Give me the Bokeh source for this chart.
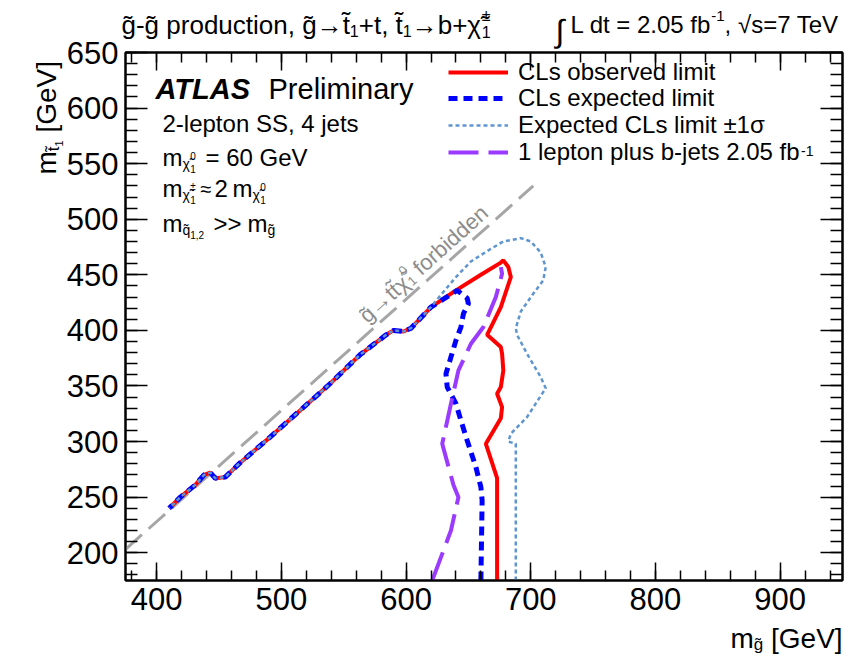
import math
import unicodedata
from bokeh.plotting import figure
from bokeh.layouts import column
from bokeh.models import Range1d, FixedTicker, LinearAxis, Label, Legend, LegendItem
from bokeh.embed import file_html
from bokeh.resources import INLINE

# ---------------- data (GeV) ----------------
obs_mgluino = [673, 673, 664, 676, 677, 673, 676, 678, 677, 676, 665, 676, 684, 682, 678,
               676, 660, 640, 620, 604, 598, 590, 584, 563, 539, 515, 491, 467, 455, 447,
               443, 438, 431, 419, 410]
obs_mstop = [175, 267, 298, 321, 331, 343, 349, 364, 379, 385, 396, 421, 448, 457, 463,
             461, 450, 436, 421, 402, 399, 400, 396, 378, 352, 328, 304, 281, 268, 267,
             272, 270, 261, 250, 240]

exp_mgluino = [660, 661, 660, 656, 649, 644, 640, 633, 632, 636, 640, 644, 646, 650, 649,
               641, 620, 604, 598, 590, 584, 563, 539, 515, 491, 467, 455, 447, 443, 438,
               431, 419, 410]
exp_mstop = [175, 247, 259, 277, 301, 319, 334, 349, 361, 376, 391, 403, 415, 424, 429,
             436, 421, 402, 399, 400, 396, 378, 352, 328, 304, 281, 268, 267, 272, 270,
             261, 250, 240]

exp1s_mgluino = [688, 688, 682, 684, 697, 712, 708, 697, 689, 688, 692, 702, 710, 712, 708,
                 700, 692, 678, 666, 652, 640, 628, 620, 604, 598, 590, 584, 563, 539, 515,
                 491, 467, 455, 447, 443, 438, 431, 419, 410]
exp1s_mstop = [175, 298, 300, 307, 322, 348, 358, 379, 396, 402, 417, 433, 445, 457, 470,
               480, 483, 480, 472, 462, 448, 432, 421, 402, 399, 400, 396, 378, 352, 328,
               304, 281, 268, 267, 272, 270, 261, 250, 240]

lep_mgluino = [621, 636, 642, 638, 629, 636, 642, 652, 662, 672, 677, 676]
lep_mstop = [175, 220, 250, 261, 298, 334, 364, 388, 403, 430, 451, 457]

kin_mgluino = [375, 702]
kin_mstop = [203, 530]

x_ticks = [400, 500, 600, 700, 800, 900]
y_ticks = [200, 250, 300, 350, 400, 450, 500, 550, 600, 650]
legend_labels = ["CLs observed limit", "CLs expected limit",
                 "Expected CLs limit \u00b11\u03c3", "1 lepton plus b-jets 2.05 fb"]

# ---------------- layout ----------------
X0, X1, Y0, Y1 = 375, 950, 175, 650
CW, CH = 846, 657
FR_L, FR_R, FR_T, FR_B = 125, 842, 52, 580
FONT = "Liberation Sans"

p = figure(width=CW, height=CH, x_range=Range1d(X0, X1), y_range=Range1d(Y0, Y1),
           output_backend="svg", toolbar_location=None,
           min_border_left=FR_L, min_border_right=CW - FR_R,
           min_border_top=FR_T, min_border_bottom=CH - FR_B,
           background_fill_color="white", border_fill_color="white")
p.grid.visible = False
p.outline_line_color = "black"
p.outline_line_width = 2


def X(px):
    return X0 + (px - FR_L) * (X1 - X0) / (FR_R - FR_L)


def Y(py):
    return Y1 - (py - FR_T) * (Y1 - Y0) / (FR_B - FR_T)


x_minor = list(range(380, 951, 20))
y_minor = list(range(180, 651, 10))


def style_axis(ax, ticks, minor, tin, tmin, labels=True):
    ax.ticker = FixedTicker(ticks=ticks, minor_ticks=minor)
    ax.major_tick_in = tin
    ax.major_tick_out = 0
    ax.minor_tick_in = tmin
    ax.minor_tick_out = 0
    ax.axis_line_width = 2
    ax.major_tick_line_width = 1.5
    ax.minor_tick_line_width = 1.5
    ax.axis_label = None
    if labels:
        ax.major_label_text_font = FONT
        ax.major_label_text_font_size = "31px"
        ax.major_label_text_color = "black"
        ax.major_label_standoff = 7
    else:
        ax.major_label_text_font_size = "1px"
        ax.major_label_text_color = None
        ax.major_label_standoff = 0


style_axis(p.xaxis[0], x_ticks, x_minor, 18, 10)
style_axis(p.yaxis[0], y_ticks, y_minor, 22, 12)
top_ax = LinearAxis()
style_axis(top_ax, x_ticks, x_minor, 18, 10, labels=False)
p.add_layout(top_ax, "above")
right_ax = LinearAxis()
style_axis(right_ax, y_ticks, y_minor, 22, 12, labels=False)
p.add_layout(right_ax, "right")

# ---------------- curves ----------------
p.line(kin_mgluino, kin_mstop, line_color="#A6A6A6", line_width=3, line_dash="22 9")
r_obs = p.line(obs_mgluino, obs_mstop, line_color="#FF0000", line_width=4)
r_exp = p.line(exp_mgluino, exp_mstop, line_color="#0000FF", line_width=5, line_dash="9 6")
r_lep = p.line(lep_mgluino, lep_mstop, line_color="#9B3BFF", line_width=4, line_dash="30 10")
r_1s = p.line(exp1s_mgluino, exp1s_mstop, line_color="#5F95CF", line_width=2.5, line_dash="4 3")

# one legend per row so the row pitch matches the reference
row_centres = [72, 98.5, 125, 152]
for lab, rend, yc in zip(legend_labels, [r_obs, r_exp, r_1s, r_lep], row_centres):
    lg = Legend(items=[LegendItem(label=lab, renderers=[rend])],
                location=(448 - FR_L, FR_B - (yc + 13.8)), orientation="vertical",
                padding=0, margin=0, spacing=0, glyph_width=60, glyph_height=24,
                label_height=24, label_standoff=10, label_text_font=FONT,
                label_text_font_size="24px", label_text_color="black",
                background_fill_alpha=0, border_line_alpha=0)
    p.add_layout(lg)

# ---------------- overlay for texts outside the frame ----------------
q = figure(width=CW, height=CH, frame_width=CW, frame_height=CH,
           x_range=Range1d(0, CW), y_range=Range1d(CH, 0),
           output_backend="svg", toolbar_location=None, min_border=0,
           x_axis_location=None, y_axis_location=None,
           background_fill_alpha=0, border_fill_alpha=0, outline_line_color=None)
q.grid.visible = False
if "frame_align" in q.properties():
    q.frame_align = False
q.styles = {"margin-top": f"-{CH}px"}

# ---------------- texts ----------------
AW = {' ': 278, '!': 278, '(': 333, ')': 333, '+': 584, ',': 278, '-': 333, '.': 278,
      '/': 278, '=': 584, '>': 584, '[': 278, ']': 278, '\u2192': 1000, '\u03c7': 550,
      '\u00b1': 584, '\u2248': 584, '\u221a': 549, '\u03c3': 600,
      'A': 667, 'B': 667, 'C': 722, 'D': 722, 'E': 667, 'F': 611, 'G': 778, 'H': 722,
      'I': 278, 'J': 500, 'K': 667, 'L': 556, 'M': 833, 'N': 722, 'O': 778, 'P': 667,
      'Q': 778, 'R': 722, 'S': 667, 'T': 611, 'U': 722, 'V': 667, 'W': 944, 'X': 667,
      'Y': 667, 'Z': 611, 'a': 556, 'b': 556, 'c': 500, 'd': 556, 'e': 556, 'f': 278,
      'g': 556, 'h': 556, 'i': 222, 'j': 222, 'k': 500, 'l': 222, 'm': 833, 'n': 556,
      'o': 556, 'p': 556, 'q': 556, 'r': 333, 's': 500, 't': 278, 'u': 556, 'v': 500,
      'w': 722, 'x': 500, 'y': 500, 'z': 500}


def tw(s, size):
    return sum(AW.get(c, 556) for c in s if not unicodedata.combining(c)) * size / 1000.0


def rich(fig, parts, px, py, angle=0.0, color="black"):
    ux, uy = math.cos(angle), -math.sin(angle)
    nx, ny = -math.sin(angle), -math.cos(angle)
    cur = 0.0
    for part in parts:
        text, size, dy, adv = part[:4]
        style = part[4] if len(part) > 4 else "normal"
        lead = len(text) - len(text.lstrip(" "))
        if lead:
            cur += tw(" " * lead, size)
            text = text.lstrip(" ")
        cx = px + ux * cur + nx * dy
        cy = py + uy * cur + ny * dy
        if fig is p:
            lx, ly = X(cx), Y(cy)
        else:
            lx, ly = cx, cy
        fig.add_layout(Label(x=lx, y=ly, text=text, angle=angle,
                             text_font=FONT, text_font_size=f"{size}px",
                             text_font_style=style, text_color=color,
                             text_align="left", text_baseline="alphabetic"))
        if adv:
            cur += tw(text, size)


# top captions (outside the frame -> overlay)
rich(q, [("g\u0303-g\u0303 production, g\u0303\u2192t\u0303", 26, 0, True),
         ("1", 16, -6, True),
         ("+t, t\u0303", 26, 0, True),
         ("1", 16, -6, True),
         ("\u2192b+\u03c7\u0303", 26, 0, True),
         ("\u00b1", 16, 9, False),
         ("1", 16, -7, True)], 121, 24)
rich(q, [("\u222b", 32, 0, True)], 555, 30)
rich(q, [("L dt = 2.05 fb", 24, 0, True), ("-1", 15, 9, True),
         (", \u221as=7 TeV", 24, 0, True)], 570, 24)

# axis titles (overlay)
rich(q, [("m", 28, 0, True), ("t\u0303", 17, -7, True), ("1", 11, -12, True),
         (" [GeV]", 28, 0, True)], 46, 174, angle=math.pi / 2)
rich(q, [("m", 28, 0, True), ("g\u0303", 17, -6, True), (" [GeV]", 28, 0, True)], 730, 638)

# ATLAS block (inside the frame)
rich(p, [("ATLAS", 29, 0, True, "bold italic")], 155, 88)
rich(p, [("Preliminary", 29, 0, True)], 268, 88)
rich(p, [("2-lepton SS, 4 jets", 24, 0, True)], 162, 123)
rich(p, [("m", 24, 0, True), ("\u03c7\u0303", 14, -6, True), ("0", 10, 2, False),
         ("1", 10, -11, True)], 162, 157)
rich(p, [("= 60 GeV", 24, 0, True)], 205, 157)
rich(p, [("m", 24, 0, True), ("\u03c7\u0303", 14, -6, True), ("\u00b1", 10, 2, False),
         ("1", 10, -11, True)], 162, 188)
rich(p, [("\u2248", 20, 0, True)], 200, 188)
rich(p, [("2", 24, 0, True)], 214, 188)
rich(p, [("m", 24, 0, True), ("\u03c7\u0303", 14, -6, True), ("0", 10, 2, False),
         ("1", 10, -11, True)], 232, 188)
rich(p, [("m", 24, 0, True), ("q\u0303", 14, -6, True), ("1,2", 10, -11, True)], 162, 223)
rich(p, [(">>", 24, 0, True)], 213, 223)
rich(p, [("m", 24, 0, True), ("g\u0303", 14, -6, True)], 247, 223)

# superscript of the last legend entry
rich(p, [("-1", 14, 0, True)], 518 + tw(legend_labels[3], 24) + 1, 150)

# forbidden label along the kinematic line
rich(p, [("g\u0303\u2192tt\u0303\u03c7\u0303", 22, 0, True), ("0", 13, 9, False),
         ("1", 13, -5, True), (" forbidden", 22, 0, True)], 362, 318, angle=0.728,
     color="#8C8C8C")

layout = column(p, q, spacing=0)
open("out.html", "w").write(file_html(layout, INLINE))
